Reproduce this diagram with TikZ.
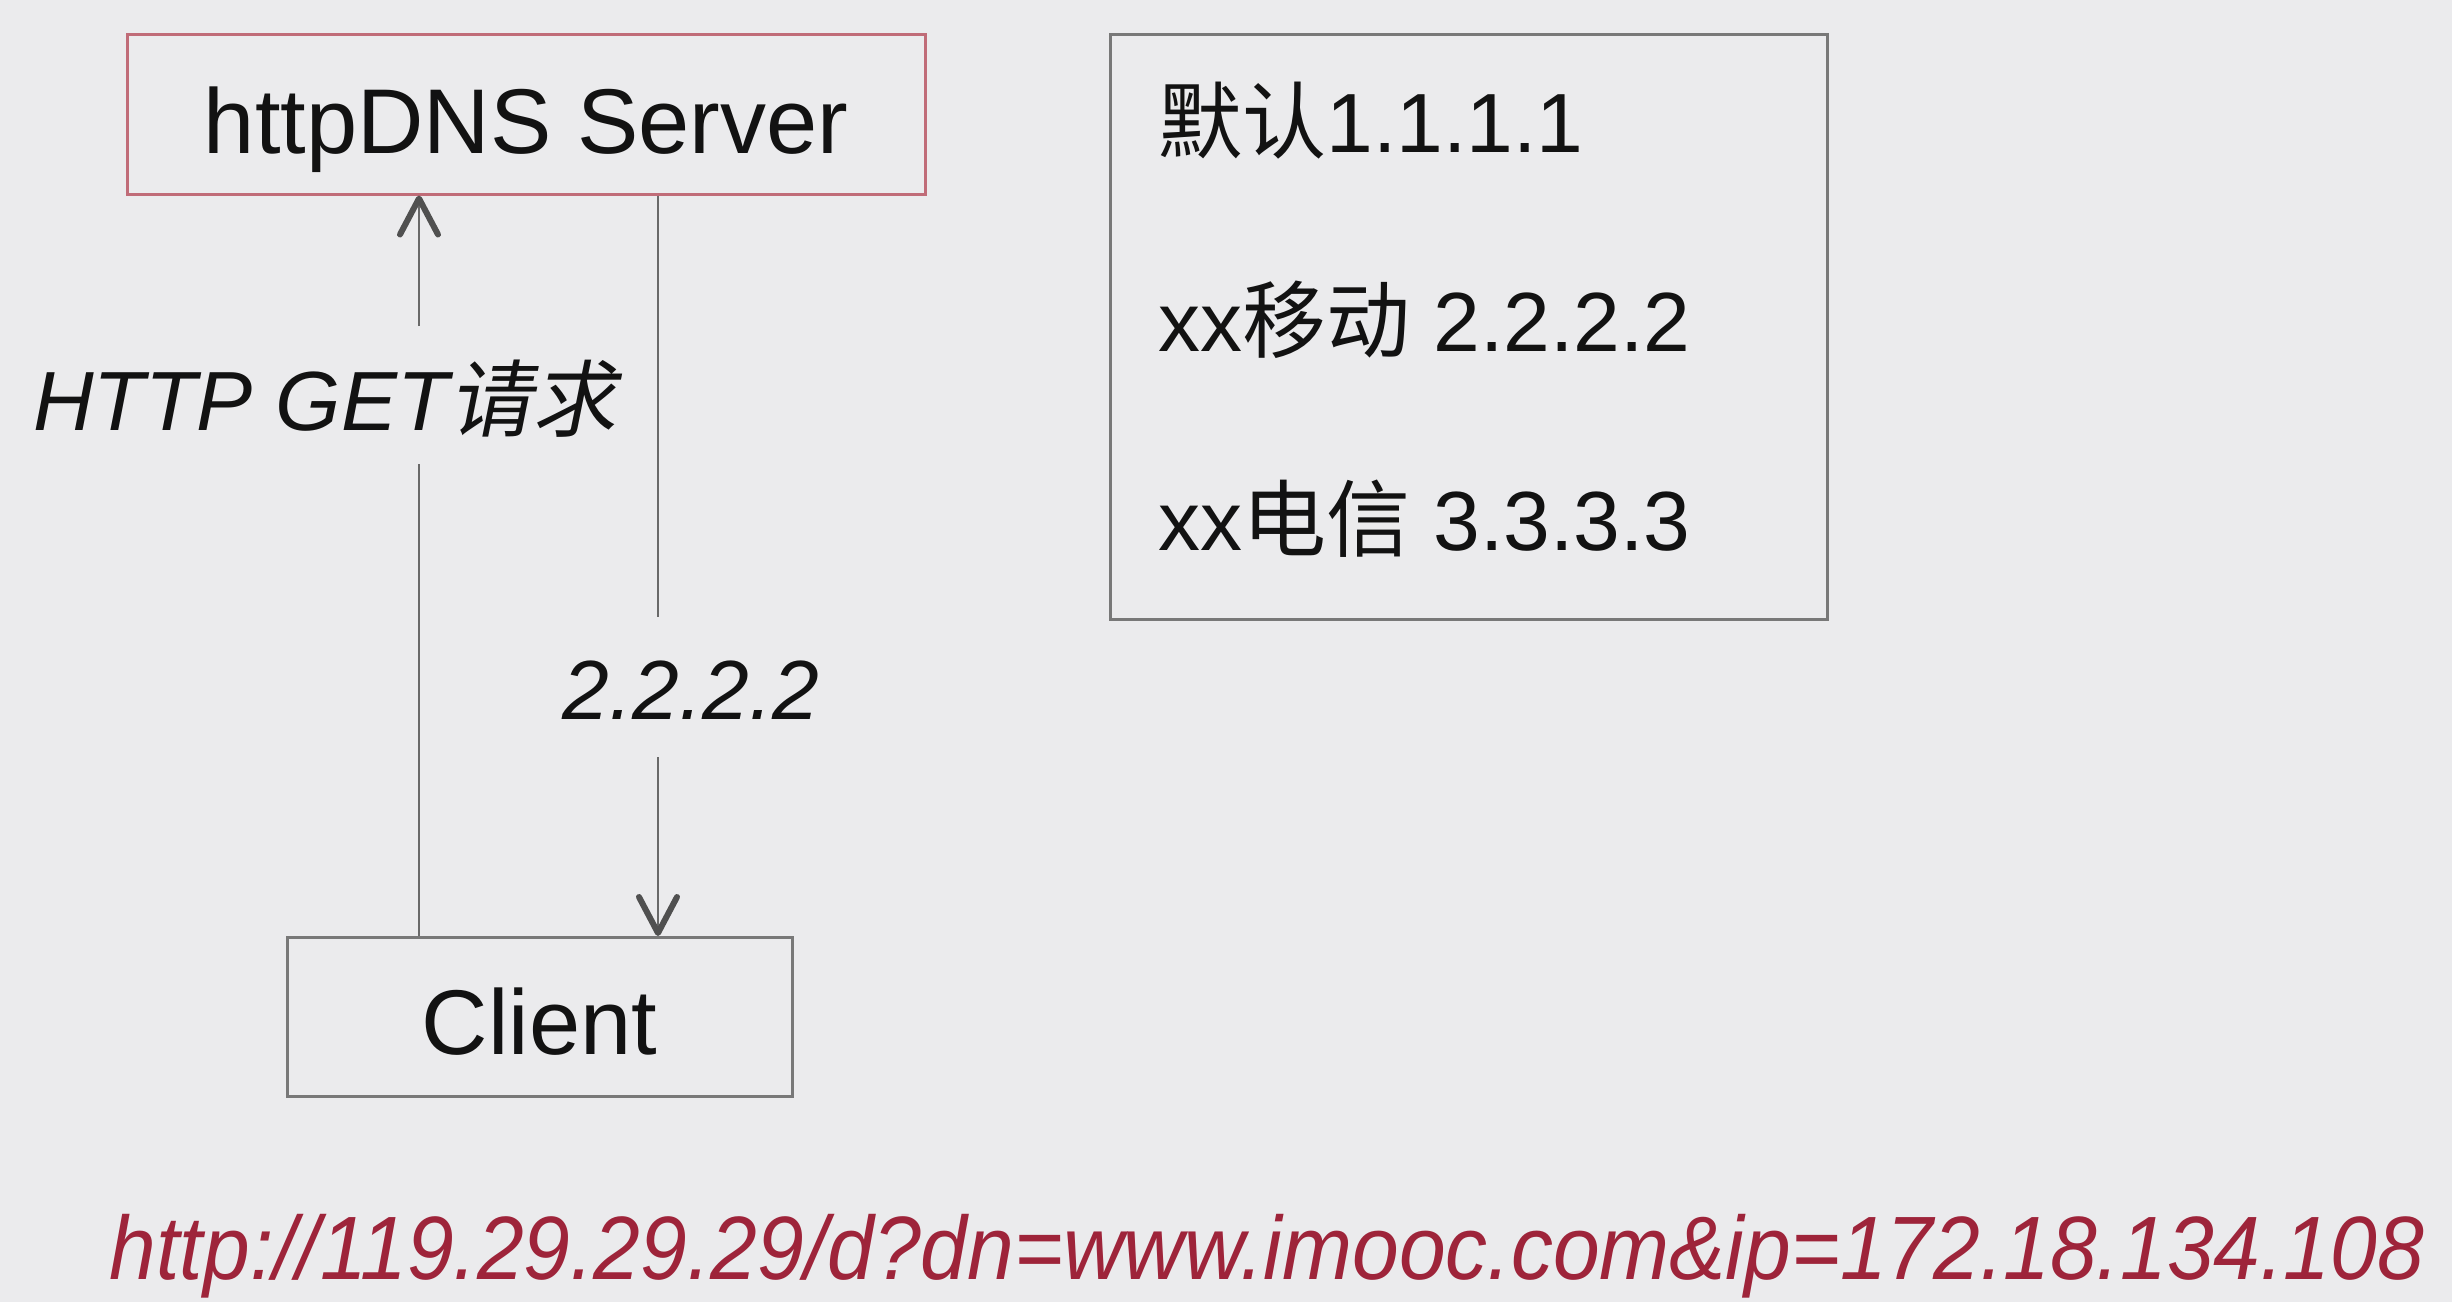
\documentclass[tikz,border=0pt]{standalone}
\usepackage{fontspec}
\usepackage{graphicx}
\setmainfont{Liberation Sans}
\newfontfamily\cjk{Noto Sans CJK SC}
\newfontfamily\cjkit[FakeSlant=0.2]{Noto Sans CJK SC}
\usetikzlibrary{arrows.meta}
\definecolor{bgc}{RGB}{235,235,237}
\definecolor{boxgray}{RGB}{120,120,120}
\definecolor{linegray}{RGB}{105,105,105}
\definecolor{tipgray}{RGB}{80,80,80}
\definecolor{srvred}{RGB}{192,108,120}
\definecolor{txt}{RGB}{18,18,18}
\definecolor{urlred}{RGB}{158,36,58}
\begin{document}
\begin{tikzpicture}[x=0.5pt,y=-0.5pt,
  box/.style={draw=boxgray, line width=1.5pt, rectangle, inner sep=0pt},
  srvbox/.style={box, draw=srvred},
  big/.style={font=\fontsize{46pt}{50pt}\selectfont, text=txt},
  mid/.style={font=\fontsize{42pt}{46pt}\selectfont, text=txt},
  link/.style={draw=linegray, line width=1.2pt},
  arr/.style={link, -{Straight Barb[length=18pt,width=19pt,line width=3pt,round,color=tipgray]}},
]
\fill[bgc] (0,0) rectangle (2452,1302);
\useasboundingbox (0,0) rectangle (2452,1302);

% boxes
\node[srvbox, big, minimum width=399pt, minimum height=80pt, text height=39pt, text depth=0pt] (server) at (526,114) {httpDNS Server};
\node[box, big, minimum width=252.5pt, minimum height=79.5pt, text height=37pt, text depth=0pt] (client) at (539.5,1017) {Client};
\node[box, minimum width=358.5pt, minimum height=292.5pt] (table) at (1468.5,326.5) {};

% table content
\node[mid, anchor=base west, inner sep=0pt] (r1) at (1158,152) {{\cjk 默认}1.1.1.1};
\node[mid, anchor=base west, inner sep=0pt] (r2) at (1158,351) {xx{\cjk 移动} 2.2.2.2};
\node[mid, anchor=base west, inner sep=0pt] (r3) at (1158,550) {xx{\cjk 电信} 3.3.3.3};

% labels
\node[mid, anchor=base, inner sep=0pt] (getlbl) at (325,430) {\itshape HTTP GET{\cjkit 请求}};
\node[mid, anchor=base, inner sep=0pt] (iplbl) at (691,719) {\itshape 2.2.2.2};

% connectors
\coordinate (gl1) at (419,464);
\coordinate (gl2) at (419,326);
\coordinate (gr1) at (658,617);
\coordinate (gr2) at (658,757);
\draw[link] (client.north -| gl1) -- (gl1);
\draw[arr] (gl2) -- (server.south -| gl2);
\draw[link] (server.south -| gr1) -- (gr1);
\draw[arr] (gr2) -- (client.north -| gr2);

% url
\node[anchor=base, inner sep=0pt, text=urlred, font=\fontsize{45pt}{50pt}\selectfont] (url) at (1267,1279) {\resizebox{1157pt}{\height}{\itshape http://119.29.29.29/d?dn=www.imooc.com\&ip=172.18.134.108}};
\end{tikzpicture}
\end{document}
